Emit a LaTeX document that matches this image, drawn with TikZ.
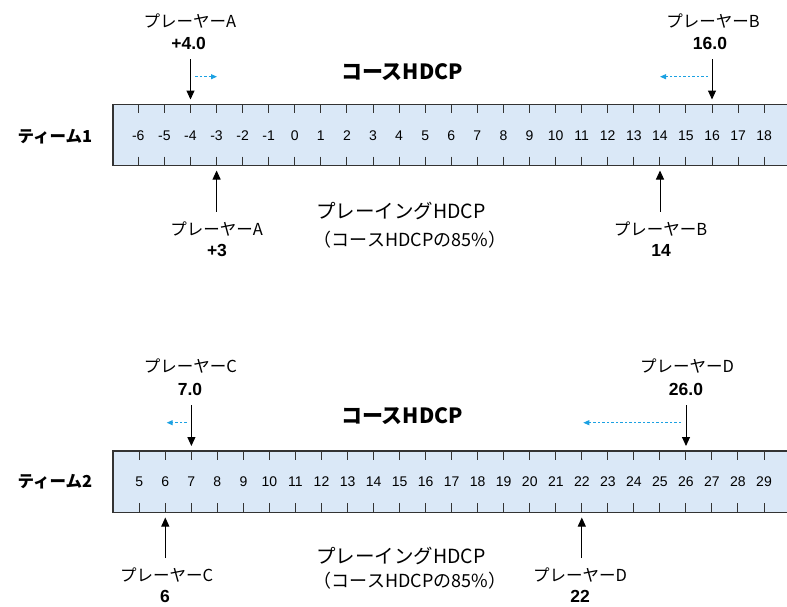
\documentclass[tikz,border=0pt]{standalone}
\usepackage{fontspec}
\setmainfont{Liberation Sans}
\newfontfamily\jp{Noto Sans CJK JP}
\usetikzlibrary{arrows.meta}
\definecolor{barfill}{HTML}{DAE8F7}
\definecolor{barline}{HTML}{333333}
\definecolor{hint}{HTML}{1BA1E2}
\tikzset{
  bar/.style={draw=barline,fill=barfill,line width=1.1pt},
  tick/.style={draw=barline,line width=1pt},
  scalenum/.style={font=\fontsize{14}{16}\selectfont,inner sep=0pt},
  plabel/.style={font=\jp\fontsize{16.5}{19}\selectfont,inner sep=0pt},
  pval/.style={font=\bfseries\fontsize{17.5}{19}\selectfont,inner sep=0pt},
  title/.style={font=\jp\bfseries\fontsize{21}{24}\selectfont,inner sep=0pt},
  team/.style={font=\jp\bfseries\fontsize{16.5}{19}\selectfont,inner sep=0pt},
  notea/.style={font=\jp\fontsize{19.5}{22}\selectfont,inner sep=0pt},
  noteb/.style={font=\jp\fontsize{18}{21}\selectfont,inner sep=0pt},
  arr/.style={draw=black,line width=1pt,-{Triangle[length=9pt,width=8pt]}},
  hintarr/.style={draw=hint,line width=1pt,dash pattern=on 2.5pt off 2pt,-{Triangle[length=6pt,width=5pt]}}
}
\begin{document}
\begin{tikzpicture}[x=1pt,y=-1pt]
\useasboundingbox (0,0) rectangle (787,606);
\clip (0,0) rectangle (787,606);
% ---------- Team 1 ----------
\draw[bar] (113,104.3) rectangle (800,165.7);
\foreach \k in {0,...,24}{
  \pgfmathsetmacro{\xx}{138.3+26.08*\k}
  \pgfmathtruncatemacro{\lab}{\k-6}
  \draw[tick] (\xx,104.3) -- (\xx,113);
  \draw[tick] (\xx,156.7) -- (\xx,165.7);
  \node[scalenum] (s1-\k) at (\xx,136) {\lab};
}
\node[team] (team1) at (55,137) {ティーム1};
\node[title] (ch1) at (402,72) {コースHDCP};
\node[notea] (ph1a) at (401,211) {プレーイングHDCP};
\node[noteb] (ph1b) at (410,240) {（コースHDCPの85\%）};
% player A
\node[plabel] (pa1) at (190,20.7) {プレーヤーA};
\node[pval] (pa1v) at (188.7,43) {+4.0};
\coordinate (a1s) at (190.5,59);
\coordinate (a1e) at (190.5,99.5);
\draw[arr] (a1s) -- (a1e);
\coordinate (ha1s) at (195,76.7);
\coordinate (ha1e) at (217,76.7);
\draw[hintarr] (ha1s) -- (ha1e);
\node[plabel] (pa2) at (216.7,229) {プレーヤーA};
\node[pval] (pa2v) at (217,250) {+3};
\coordinate (a2s) at (216.6,211.7);
\coordinate (a2e) at (216.6,170.5);
\draw[arr] (a2s) -- (a2e);
% player B
\node[plabel] (pb1) at (713,20.7) {プレーヤーB};
\node[pval] (pb1v) at (710,43) {16.0};
\coordinate (b1s) at (712,59);
\coordinate (b1e) at (712,99.5);
\draw[arr] (b1s) -- (b1e);
\coordinate (hb1s) at (708,76.7);
\coordinate (hb1e) at (660,76.7);
\draw[hintarr] (hb1s) -- (hb1e);
\node[plabel] (pb2) at (660.5,229) {プレーヤーB};
\node[pval] (pb2v) at (661,250) {14};
\coordinate (b2s) at (660,211.7);
\coordinate (b2e) at (660,170.5);
\draw[arr] (b2s) -- (b2e);
% ---------- Team 2 ----------
\draw[bar] (113,451) rectangle (800,512.3);
\foreach \k in {0,...,24}{
  \pgfmathsetmacro{\xx}{139.3+26.03*\k}
  \pgfmathtruncatemacro{\lab}{\k+5}
  \draw[tick] (\xx,451) -- (\xx,460);
  \draw[tick] (\xx,503.3) -- (\xx,512.3);
  \node[scalenum] (s2-\k) at (\xx,481.7) {\lab};
}
\node[team] (team2) at (55,482) {ティーム2};
\node[title] (ch2) at (402,416) {コースHDCP};
\node[notea] (ph2a) at (401,556) {プレーイングHDCP};
\node[noteb] (ph2b) at (410,581) {（コースHDCPの85\%）};
% player C
\node[plabel] (pc1) at (190.3,366) {プレーヤーC};
\node[pval] (pc1v) at (190,389) {7.0};
\coordinate (c1s) at (191.4,405);
\coordinate (c1e) at (191.4,446);
\draw[arr] (c1s) -- (c1e);
\coordinate (hc1s) at (186.7,422.7);
\coordinate (hc1e) at (166.7,422.7);
\draw[hintarr] (hc1s) -- (hc1e);
\node[plabel] (pc2) at (166.7,575) {プレーヤーC};
\node[pval] (pc2v) at (165,596.7) {6};
\coordinate (c2s) at (165.3,558);
\coordinate (c2e) at (165.3,517.5);
\draw[arr] (c2s) -- (c2e);
% player D
\node[plabel] (pd1) at (687,366) {プレーヤーD};
\node[pval] (pd1v) at (686,389) {26.0};
\coordinate (d1s) at (686,405);
\coordinate (d1e) at (686,446);
\draw[arr] (d1s) -- (d1e);
\coordinate (hd1s) at (681,422.7);
\coordinate (hd1e) at (583.3,422.7);
\draw[hintarr] (hd1s) -- (hd1e);
\node[plabel] (pd2) at (580,575) {プレーヤーD};
\node[pval] (pd2v) at (580,596) {22};
\coordinate (d2s) at (581.8,558);
\coordinate (d2e) at (581.8,517.5);
\draw[arr] (d2s) -- (d2e);
\end{tikzpicture}
\end{document}
